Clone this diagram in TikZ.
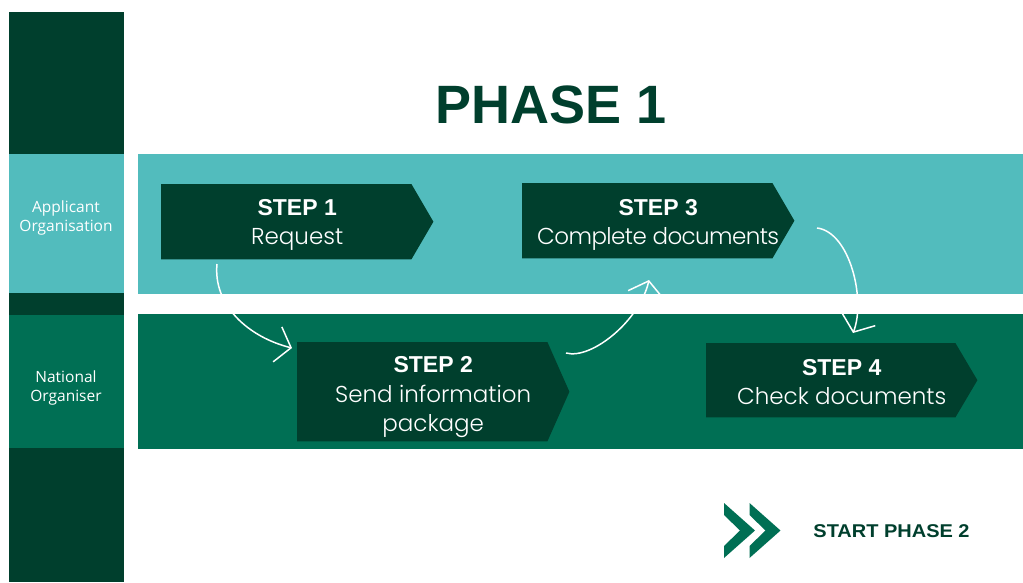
\documentclass[tikz,border=0pt]{standalone}
\usepackage{fontspec}
\setmainfont{Liberation Sans}
\newfontfamily\bodyfont{Poppins Light}
\newfontfamily\labelfont{Open Sans}
\newfontfamily\widebold{Liberation Sans Bold}[FakeStretch=1.08]
\usetikzlibrary{arrows.meta}
\pgfdeclarelayer{back}
\pgfsetlayers{back,main}
\definecolor{dkgreen}{RGB}{0,63,45}
\definecolor{laneteal}{RGB}{82,188,189}
\definecolor{midgreen}{RGB}{0,111,84}
\begin{document}
\begin{tikzpicture}[x=1pt,y=-1pt,
  stepbox/.style={minimum width=272pt, inner sep=0pt, anchor=north west},
  steptext/.style={inner sep=0pt, align=center, text=white, font=\fontsize{23}{29.5}\selectfont},
  stepfill/.style={fill=dkgreen},
  lanelabel/.style={text=white, align=center, font=\labelfont\fontsize{15.5}{19}\selectfont},
  flow/.style={draw=white, line width=1.5pt, -{Straight Barb[length=14pt,width=36pt]}}
]
\useasboundingbox (0,0) rectangle (1023,582);
\begin{pgfonlayer}{back}
  \fill[white] (0,0) rectangle (1023,582);
  % left column
  \fill[dkgreen] (9,12) rectangle (124,582);
  \fill[laneteal] (9,154) rectangle (124,293);
  \fill[midgreen] (9,315) rectangle (124,448);
  % lanes
  \fill[laneteal] (138,154) rectangle (1023,294);
  \fill[midgreen] (138,314) rectangle (1023,449);
\end{pgfonlayer}

% title
\node[anchor=base, text=dkgreen, font=\bfseries\fontsize{54}{60}\selectfont] (title) at (551,123) {PHASE 1};

% lane labels
\node[lanelabel] (lab1) at (66,218) {Applicant\\Organisation};
\node[lanelabel] (lab2) at (66,388) {National\\Organiser};

% step shapes
\node[stepbox, minimum height=75pt] (s1) at (161,184) {};
\node[stepbox, minimum height=99pt] (s2) at (297,342) {};
\node[stepbox, minimum height=75pt] (s3) at (522,183) {};
\node[stepbox, minimum height=74pt, minimum width=271pt] (s4) at (706,343) {};
\foreach \n in {s1,s2,s3,s4}
  \fill[stepfill] (\n.north west) -- ([xshift=-22pt]\n.north east) -- (\n.east) -- ([xshift=-22pt]\n.south east) -- (\n.south west) -- cycle;

% step texts
\node[steptext] (t1) at ([yshift=-3pt]s1.center) {{\bfseries STEP 1}\\{\bodyfont Request}};
\node[steptext] (t2) at ([yshift=-5.5pt]s2.center) {{\bfseries STEP 2}\\{\bodyfont Send information}\\{\bodyfont package}};
\node[steptext] (t3) at ([yshift=-4pt]s3.center) {{\bfseries STEP 3}\\{\bodyfont\addfontfeature{LetterSpace=-2.5}Complete documents}};
\node[steptext] (t4) at ([yshift=-2pt]s4.center) {{\bfseries STEP 4}\\{\bodyfont Check documents}};

% connectors
\coordinate (a1s) at (217,264);
\coordinate (a1e) at (292,348);
\coordinate (a2s) at (566,353);
\coordinate (a2e) at (649,280);
\coordinate (a3s) at (817,228);
\coordinate (a3e) at (853,333);
\draw[flow] (a1s) .. controls (213,305) and (248,337) .. (a1e);
\draw[flow] (a2s) .. controls (592,360) and (640,320) .. (a2e);
\draw[flow] (a3s) .. controls (850,232) and (866,300) .. (a3e);

% next phase
\foreach \dx in {0,25.5}
  \fill[midgreen] (724+\dx,503) -- (755+\dx,530.5) -- (724+\dx,558) -- (724+\dx,546) -- (740+\dx,530.5) -- (724+\dx,515) -- cycle;
\node[anchor=base, text=dkgreen, font=\widebold\fontsize{18.5}{22}\selectfont] (next) at (891.5,537) {START PHASE 2};
\end{tikzpicture}
\end{document}
